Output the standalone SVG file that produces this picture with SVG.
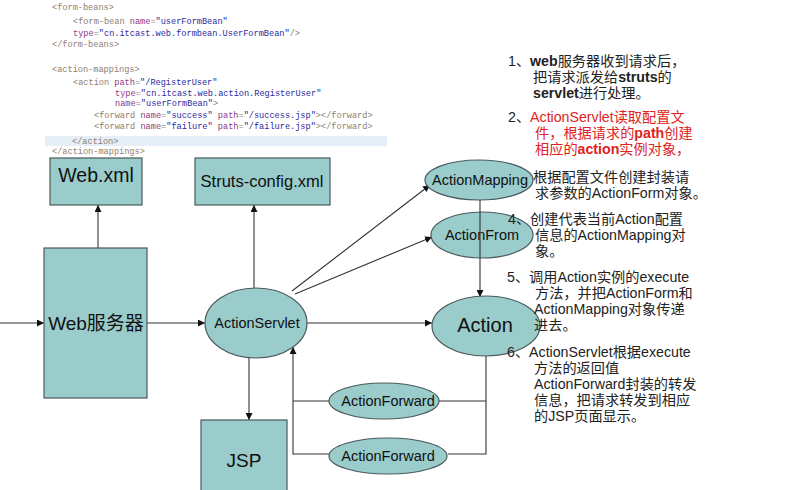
<svg xmlns="http://www.w3.org/2000/svg" width="803" height="490" viewBox="0 0 803 490">
<style>
.code{font-family:"Liberation Mono",monospace;font-size:8.6px;fill:#8f8070}
.an{fill:#8a3a86}
.av{fill:#2a2aa0}
.box{fill:#99cccb;stroke:#4a5a5a;stroke-width:1.2}
.lbl{font-family:"Liberation Sans",Arial,sans-serif;fill:#111;text-anchor:middle}
.con{stroke:#333;stroke-width:1.1;fill:none}
.note{font-family:"Liberation Sans","Noto Sans CJK SC",sans-serif;font-size:14.2px;fill:#222}
.red{fill:#e02222}
.b{font-weight:bold}
</style>
<defs>
<marker id="ah" viewBox="0 0 10 10" refX="10" refY="5" markerWidth="7" markerHeight="7" orient="auto" markerUnits="userSpaceOnUse">
<path d="M0,0 L10,5 L0,10 z" fill="#111"/>
</marker>
</defs>
<rect width="803" height="490" fill="#fff"/>
<g id="code">
<rect x="45" y="136" width="342" height="10" fill="#e6eef8"/>
<text class="code" x="52" y="10">&lt;form-beans&gt;</text>
<text class="code" x="73" y="23.5">&lt;form-bean <tspan class="an">name</tspan>=<tspan class="av">"userFormBean"</tspan></text>
<text class="code" x="73" y="36"><tspan class="an">type</tspan>=<tspan class="av">"cn.itcast.web.formbean.UserFormBean"</tspan>/&gt;</text>
<text class="code" x="52" y="47">&lt;/form-beans&gt;</text>
<text class="code" x="52" y="72">&lt;action-mappings&gt;</text>
<text class="code" x="73" y="85">&lt;action <tspan class="an">path</tspan>=<tspan class="av">"/RegisterUser"</tspan></text>
<text class="code" x="115" y="95.5"><tspan class="an">type</tspan>=<tspan class="av">"cn.itcast.web.action.RegisterUser"</tspan></text>
<text class="code" x="115" y="106"><tspan class="an">name</tspan>=<tspan class="av">"userFormBean"</tspan>&gt;</text>
<text class="code" x="94" y="118">&lt;forward <tspan class="an">name</tspan>=<tspan class="av">"success"</tspan> <tspan class="an">path</tspan>=<tspan class="av">"/success.jsp"</tspan>&gt;&lt;/forward&gt;</text>
<text class="code" x="94" y="128.5">&lt;forward <tspan class="an">name</tspan>=<tspan class="av">"failure"</tspan> <tspan class="an">path</tspan>=<tspan class="av">"/failure.jsp"</tspan>&gt;&lt;/forward&gt;</text>
<text class="code" x="72" y="143.5">&lt;/action&gt;</text>
<text class="code" x="52" y="154">&lt;/action-mappings&gt;</text>
</g>
<g id="connectors">
<line class="con" x1="0" y1="323" x2="44" y2="323" marker-end="url(#ah)"/>
<line class="con" x1="98" y1="248" x2="98" y2="205" marker-end="url(#ah)"/>
<line class="con" x1="147" y1="323" x2="205" y2="323" marker-end="url(#ah)"/>
<line class="con" x1="254" y1="288" x2="254" y2="205" marker-end="url(#ah)"/>
<line class="con" x1="249" y1="358" x2="249" y2="420" marker-end="url(#ah)"/>
<line class="con" x1="307" y1="323" x2="432" y2="323" marker-end="url(#ah)"/>
<line class="con" x1="292" y1="291" x2="430" y2="185" marker-end="url(#ah)"/>
<line class="con" x1="295" y1="294" x2="432" y2="237" marker-end="url(#ah)"/>
<polyline class="con" points="486,356 486,454 448,454"/>
<line class="con" x1="486" y1="401" x2="438" y2="401"/>
<polyline class="con" points="329,454 293,454 293,347" marker-end="url(#ah)"/>
<line class="con" x1="329" y1="401" x2="293" y2="401"/>
</g>
<g id="webxml">
<rect class="box" x="50" y="158" width="92" height="47"/>
<text class="lbl" x="96" y="182" font-size="19.5">Web.xml</text>
</g>
<g id="strutsconfig">
<rect class="box" x="195" y="158" width="135" height="47"/>
<text class="lbl" x="262" y="187" font-size="16.5">Struts-config.xml</text>
</g>
<g id="webserver">
<rect class="box" x="44" y="248" width="103" height="150"/>
<text class="lbl" x="96" y="330" font-size="19" style="font-family:'Liberation Sans','Noto Sans CJK SC',sans-serif">Web服务器</text>
</g>
<g id="actionservlet">
<ellipse class="box" cx="256" cy="323" rx="51" ry="35"/>
<text class="lbl" x="257" y="328" font-size="14.5">ActionServlet</text>
</g>
<g id="jsp">
<rect class="box" x="201" y="420" width="86" height="75"/>
<text class="lbl" x="244" y="467" font-size="19">JSP</text>
</g>
<g id="actionmapping">
<ellipse class="box" cx="479" cy="180" rx="54" ry="20"/>
<text class="lbl" x="480" y="185" font-size="14.5">ActionMapping</text>
</g>
<g id="actionfrom">
<ellipse class="box" cx="482" cy="235" rx="51" ry="23"/>
<text class="lbl" x="482" y="240" font-size="14.5">ActionFrom</text>
</g>
<line class="con" x1="480" y1="200" x2="480" y2="297" marker-end="url(#ah)"/>
<g id="action">
<ellipse class="box" cx="486" cy="326" rx="54" ry="30"/>
<text class="lbl" x="485" y="332" font-size="20">Action</text>
</g>
<g id="actionforward1">
<ellipse class="box" cx="384" cy="401" rx="55" ry="18"/>
<text class="lbl" x="388" y="406" font-size="14.5">ActionForward</text>
</g>
<g id="actionforward2">
<ellipse class="box" cx="388" cy="456" rx="59" ry="18"/>
<text class="lbl" x="388" y="461" font-size="14.5">ActionForward</text>
</g>
<g id="notes">
<text class="note" x="508" y="66">1、<tspan class="b">web</tspan>服务器收到请求后，</text>
<text class="note" x="533" y="82">把请求派发给<tspan class="b">struts</tspan>的</text>
<text class="note" x="533" y="98"><tspan class="b">servlet</tspan>进行处理。</text>
<text class="note" x="508" y="122">2、<tspan class="red">ActionServlet读取配置文</tspan></text>
<text class="note red" x="535" y="138">件，根据请求的<tspan class="b">path</tspan>创建</text>
<text class="note red" x="535" y="154">相应的<tspan class="b">action</tspan>实例对象，</text>
<text class="note" x="533" y="182">根据配置文件创建封装请</text>
<text class="note" x="535" y="198">求参数的ActionForm对象。</text>
<text class="note" x="508" y="224">4、创建代表当前Action配置</text>
<text class="note" x="535" y="240">信息的ActionMapping对</text>
<text class="note" x="535" y="256">象。</text>
<text class="note" x="507" y="282">5、调用Action实例的execute</text>
<text class="note" x="535" y="298">方法，并把ActionForm和</text>
<text class="note" x="534" y="314">ActionMapping对象传递</text>
<text class="note" x="534" y="330">进去。</text>
<text class="note" x="507" y="357">6、ActionServlet根据execute</text>
<text class="note" x="534" y="373">方法的返回值</text>
<text class="note" x="534" y="389">ActionForward封装的转发</text>
<text class="note" x="534" y="405">信息，把请求转发到相应</text>
<text class="note" x="534" y="421">的JSP页面显示。</text>
</g>
</svg>
